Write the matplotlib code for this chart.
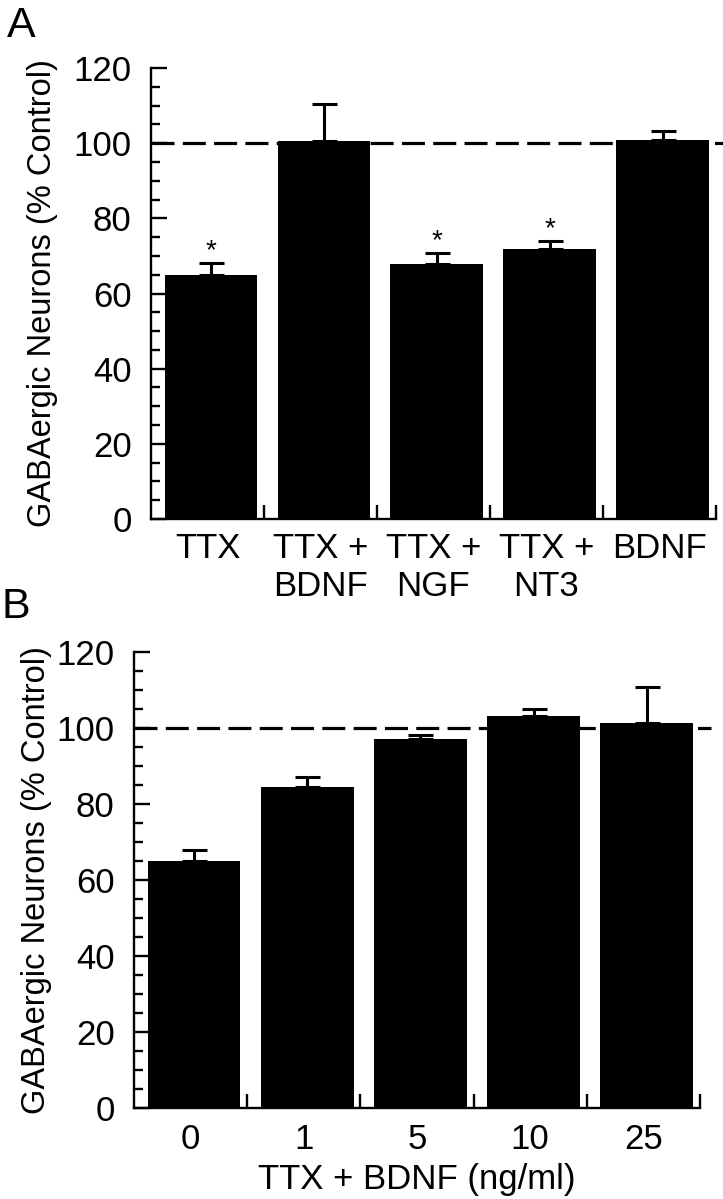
"""
Два столбчатых графика: доля ГАМК-ергических нейронов (% контроля)
"""

import matplotlib.pyplot as plt
from matplotlib.ticker import MultipleLocator, FixedLocator
import numpy as np

plt.rcParams['font.family'] = ['Liberation Sans', 'DejaVu Sans']

# Панель A
labels_a = ["TTX", "TTX +\nBDNF", "TTX +\nNGF", "TTX +\nNT3", "BDNF"]
means_a = [65, 100.5, 67.8, 71.8, 100.8]
sem_a = [3, 10, 3, 2.2, 2.5]
stars_a = [True, False, True, True, False]

# Панель B
labels_b = ["0", "1", "5", "10", "25"]
means_b = [65, 84.5, 97.2, 103.2, 101.2]
sem_b = [3, 2.7, 1, 1.8, 9.7]

ylabel = "GABAergic Neurons (% Control)"
xlabel_b = "TTX + BDNF (ng/ml)"
FS = 25
LW = 1.7


def draw_panel(ax, labels, means, sems, stars=None, xpad=10, ypad=16):
    n = len(means)
    x = np.arange(n) + 0.53
    ax.bar(x, means, width=0.82, color='black', zorder=3)
    ax.errorbar(x, means, yerr=[np.zeros(n), sems], fmt='none', ecolor='black',
                elinewidth=2.2, capsize=9, capthick=2.2, zorder=4)

    # Контрольный уровень 100 %
    ax.plot([0, n + 0.1], [100, 100], color='black', lw=2.3,
            linestyle=(0, (7.2, 2.6)), zorder=2, clip_on=False)

    if stars:
        for xi, m, s, st in zip(x, means, sems, stars):
            if st:
                ax.text(xi, m + s + 3.2, '*', ha='center', va='center', fontsize=20)

    ax.set_xlim(0, n)
    ax.set_ylim(0, 120)
    for side in ['top', 'right']:
        ax.spines[side].set_visible(False)
    for side in ['left', 'bottom']:
        ax.spines[side].set_linewidth(LW)

    ax.yaxis.set_major_locator(MultipleLocator(20))
    ax.yaxis.set_minor_locator(MultipleLocator(5))
    ax.tick_params(axis='y', which='major', direction='in', length=11.5,
                   width=LW, pad=14, labelsize=FS)
    ax.tick_params(axis='y', which='minor', direction='in', length=6.5, width=LW)

    ax.set_xticks(np.arange(n) + 0.5)
    ax.set_xticklabels(labels)
    ax.xaxis.set_minor_locator(FixedLocator(np.arange(1, n + 1)))
    ax.tick_params(axis='x', which='major', length=0, pad=xpad, labelsize=FS)
    ax.tick_params(axis='x', which='minor', direction='in', length=10, width=LW)

    ax.set_ylabel(ylabel, fontsize=23.5, labelpad=ypad)


fig = plt.figure(figsize=(7.23, 11.99), dpi=100)
ax_a = fig.add_axes([0.2089, 0.5671, 0.7811, 0.3762])
ax_b = fig.add_axes([0.1853, 0.0759, 0.7828, 0.3803])

draw_panel(ax_a, labels_a, means_a, sem_a, stars_a, xpad=9, ypad=11)
draw_panel(ax_b, labels_b, means_b, sem_b, xpad=11, ypad=3)
ax_b.set_xlabel(xlabel_b, fontsize=FS, labelpad=5)

fig.text(0.010, 1 - 6 / 1199, "A", fontsize=31, va='top', ha='left')
fig.text(0.002, 1 - 587 / 1199, "B", fontsize=31, va='top', ha='left')

fig.savefig("out.png", dpi=100)
